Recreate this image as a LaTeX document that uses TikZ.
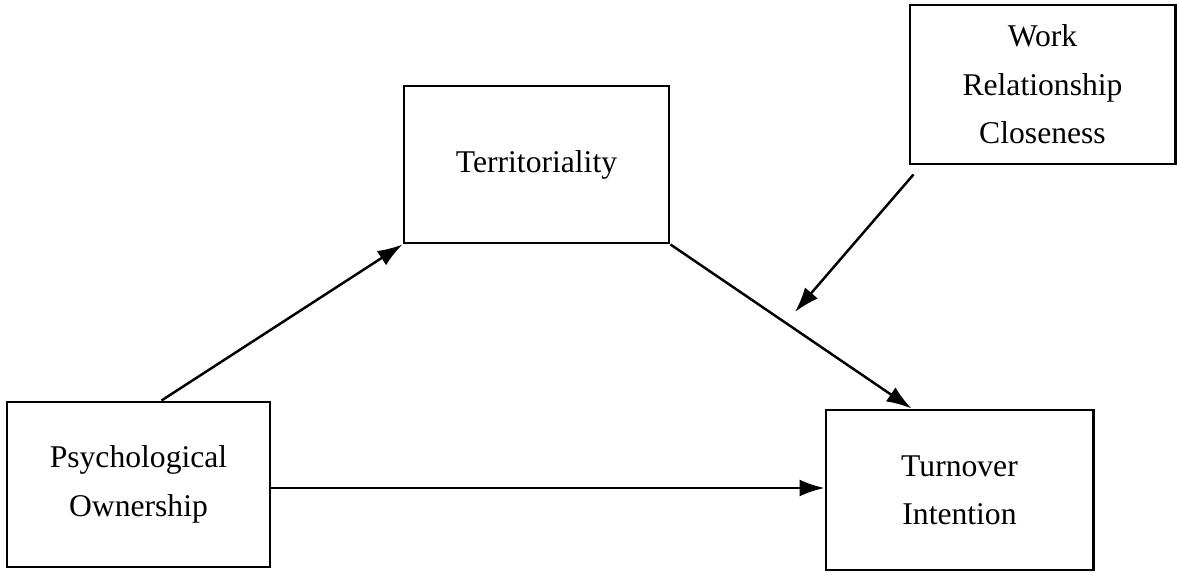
\documentclass[tikz,border=0pt]{standalone}
\usepackage{fontspec}
\setmainfont{Liberation Serif}
\usetikzlibrary{calc, arrows.meta}

\begin{document}
\begin{tikzpicture}[
	box/.style={draw, line width=1.7pt, minimum width=5.3cm, align=center,
		font=\fontsize{18}{27.5}\selectfont},
	link/.style={-{Latex[length=5mm, width=3.4mm]}, line width=1.4pt}]

		\useasboundingbox (0,0) rectangle (23.54,11.48);

		\node[box, minimum height=3.14cm] (terr) at (10.73,8.19) {Territoriality};
		\node[box, minimum height=3.18cm] (wrc) at (20.85,9.79) {Work\\Relationship\\Closeness};
		\node[box, minimum width=5.26cm, minimum height=3.3cm] (po) at (2.77,1.79) {Psychological\\Ownership};
		\node[box, minimum width=5.34cm, minimum height=3.2cm] (ti) at (19.19,1.68) {Turnover\\Intention};

		\coordinate (poTop) at ($(po.north west)+(3.12,0)$);
		\coordinate (tiTop) at ($(ti.north west)+(1.74,0)$);
		\coordinate (wrcOut) at ($(wrc.south west)+(0.1,-0.18)$);
		\coordinate (mod) at (15.9,5.24);

		\draw[link] (poTop) -- (terr.south west);
		\draw[link] (terr.south east) -- (tiTop);
		\draw[link] (po.east |- 0,1.72) -- (ti.west |- 0,1.72);
		\draw[link] (wrcOut) -- (mod);

\end{tikzpicture}
\end{document}
